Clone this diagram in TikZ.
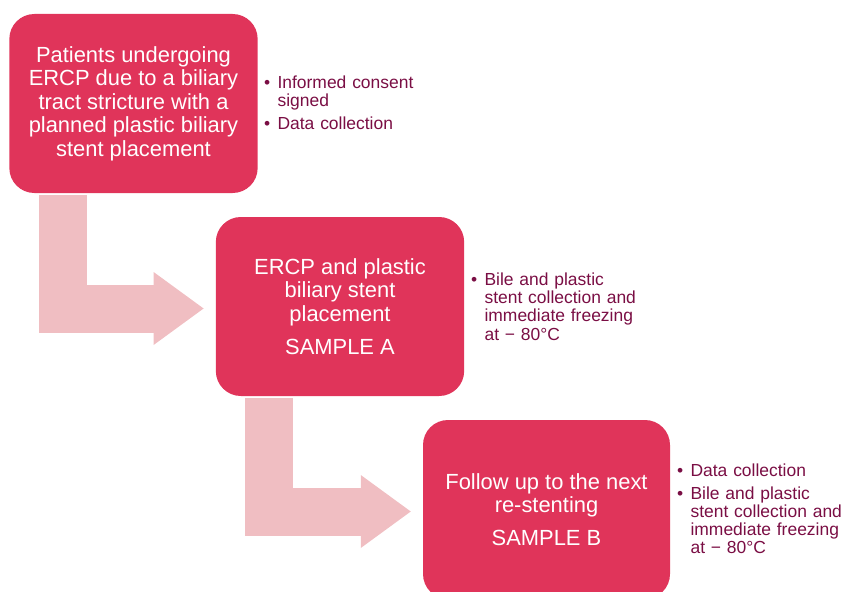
\documentclass[tikz,border=0pt]{standalone}
\usepackage{fontspec}
\setmainfont{Liberation Sans}
\usetikzlibrary{arrows.meta, calc}

\definecolor{stepred}{RGB}{224,52,90}
\definecolor{bentpink}{RGB}{240,190,194}
\definecolor{noteplum}{RGB}{122,14,68}

% one bullet point with hanging indent
\newcommand{\bpoint}[1]{\par\hangindent=4mm\hangafter=1\noindent\makebox[4mm][l]{\textbullet}#1\par}

\begin{document}
\begin{tikzpicture}[x=0.3mm, y=-0.3mm,
  stepbox/.style={rectangle, rounded corners=7.5mm, fill=stepred, text=white, align=center,
    minimum width=74.5mm, minimum height=53.7mm, inner sep=0pt,
    font=\fontsize{18.7}{20}\selectfont},
  notes/.style={anchor=north west, text=noteplum, text width=58mm, inner sep=0pt,
    font=\fontsize{14.9}{15.6}\selectfont\setlength{\parskip}{4pt}},
  bent/.style={bentpink, line width=14.4mm, line join=miter,
    -{Triangle[length=15mm, width=21.9mm, line width=0pt]}}
]
\useasboundingbox (0,0) rectangle (841,592);
\clip (0,0) rectangle (841,592);

\node (patients) [stepbox] at (133.5,103.5) {Patients undergoing\\ERCP due to a biliary\\tract stricture with a\\planned plastic biliary\\stent placement};
\node (ercp) [stepbox] at (340,306.5) {ERCP and plastic\\biliary stent\\placement\\[8pt]SAMPLE A};
\node (follow) [stepbox, minimum width=74.1mm] at (546.5,509.5) {Follow up to the next\\re-stenting\\[8pt]SAMPLE B};

\node (notes1) [notes] at (264,65) {\bpoint{Informed consent\newline signed}\bpoint{Data collection}};
\node (notes2) [notes] at (471,262) {\bpoint{Bile and plastic\newline stent collection and\newline immediate freezing\newline at − 80°C}};
\node (notes3) [notes] at (677,453) {\bpoint{Data collection}\bpoint{Bile and plastic\newline stent collection and\newline immediate freezing\newline at − 80°C}};

\draw [bent] ($(patients.south)+(-71,2)$) |- ($(ercp.west)+(-12,2)$);
\draw [bent] ($(ercp.south)+(-71.5,2)$) |- ($(follow.west)+(-12,2)$);

\end{tikzpicture}
\end{document}
